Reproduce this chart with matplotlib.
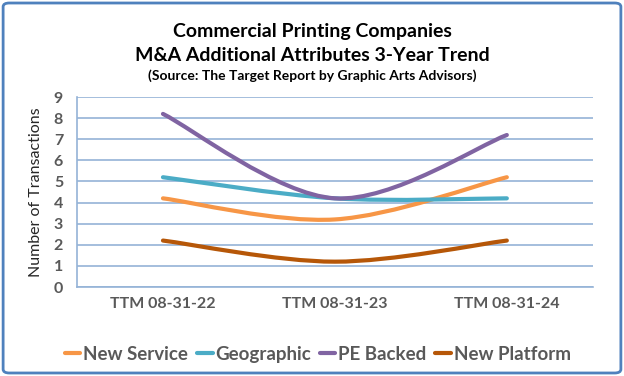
import matplotlib.pyplot as plt
from matplotlib.path import Path
from matplotlib.patches import PathPatch, FancyBboxPatch
from matplotlib.lines import Line2D

CATEGORIES = ['TTM 08-31-22', 'TTM 08-31-23', 'TTM 08-31-24']
NEW_SERVICE = [4.2, 3.2, 5.2]
GEOGRAPHIC = [5.2, 4.2, 4.2]
PE_BACKED = [8.2, 4.2, 7.2]
NEW_PLATFORM = [2.2, 1.2, 2.2]

SERIES = [
    ('New Service', NEW_SERVICE, '#F79646'),
    ('Geographic', GEOGRAPHIC, '#4BACC6'),
    ('PE Backed', PE_BACKED, '#8064A2'),
    ('New Platform', NEW_PLATFORM, '#B65708'),
]

FONT = 'Lato'
GRAY = '#595959'


def smooth_path(xs, ys):
    # excel-like smoothing: cubic bezier through points (catmull-rom tangents)
    pts = list(zip(xs, ys))
    n = len(pts)
    verts = [pts[0]]
    codes = [Path.MOVETO]
    for i in range(n - 1):
        p0 = pts[i - 1] if i > 0 else pts[i]
        p1 = pts[i]
        p2 = pts[i + 1]
        p3 = pts[i + 2] if i + 2 < n else pts[i + 1]
        c1 = (p1[0] + (p2[0] - p0[0]) / 6, p1[1] + (p2[1] - p0[1]) / 6)
        c2 = (p2[0] - (p3[0] - p1[0]) / 6, p2[1] - (p3[1] - p1[1]) / 6)
        verts += [c1, c2, p2]
        codes += [Path.CURVE4] * 3
    return Path(verts, codes)


fig = plt.figure(figsize=(6.24, 3.76), dpi=100)
ax = fig.add_axes([0.1234, 0.2367, 0.8266, 0.5053])

x = list(range(len(CATEGORIES)))
for name, vals, color in SERIES:
    patch = PathPatch(smooth_path(x, vals), facecolor='none', edgecolor=color,
                      lw=3.0, capstyle='round', joinstyle='round', zorder=3)
    ax.add_patch(patch)

ax.set_xlim(-0.5, 2.5)
ax.set_ylim(0, 9)
ax.set_yticks(range(10))
ax.set_xticks(x)
ax.set_xticklabels(CATEGORIES)
ax.grid(axis='y', color='#95B3D7', lw=1.2)
ax.set_axisbelow(True)
for s in ['top', 'right']:
    ax.spines[s].set_visible(False)
ax.spines['bottom'].set_color('#95B3D7')
ax.spines['bottom'].set_linewidth(1.2)
ax.spines['left'].set_color('#95B3D7')
ax.spines['left'].set_linewidth(1.2)
ax.tick_params(length=0, colors=GRAY, labelsize=11.5)
ax.tick_params(axis='y', pad=10)
ax.tick_params(axis='x', pad=7)
for lab in ax.get_xticklabels() + ax.get_yticklabels():
    lab.set_fontfamily(FONT)
    lab.set_fontweight('bold')
ax.set_ylabel('Number of Transactions', fontsize=11.5, family=FONT, color='#262626', labelpad=8)

fig.text(0.5, 0.915, 'Commercial Printing Companies', ha='center', va='center',
         fontsize=14, fontweight='bold', family=FONT)
fig.text(0.5, 0.853, 'M&A Additional Attributes 3-Year Trend', ha='center', va='center',
         fontsize=14, fontweight='bold', family=FONT)
fig.text(0.5, 0.798, '(Source: The Target Report by Graphic Arts Advisors)', ha='center', va='center',
         fontsize=10, fontweight='bold', family=FONT)

handles = [Line2D([], [], color=c, lw=3.0, solid_capstyle='round') for _, _, c in SERIES]
fig.legend(handles, [n for n, _, _ in SERIES], loc='center', bbox_to_anchor=(0.509, 0.058),
           ncol=4, frameon=False, handlelength=0.85, handletextpad=0.15, columnspacing=0.45,
           prop={'family': FONT, 'weight': 'bold', 'size': 13.5}, labelcolor=GRAY)

border = FancyBboxPatch((0.005, 0.008), 0.99, 0.984, boxstyle='round,pad=0,rounding_size=0.01',
                        transform=fig.transFigure, facecolor='none', edgecolor='#4F81BD', lw=2)
fig.patches.append(border)

fig.savefig('out.png', dpi=100)
